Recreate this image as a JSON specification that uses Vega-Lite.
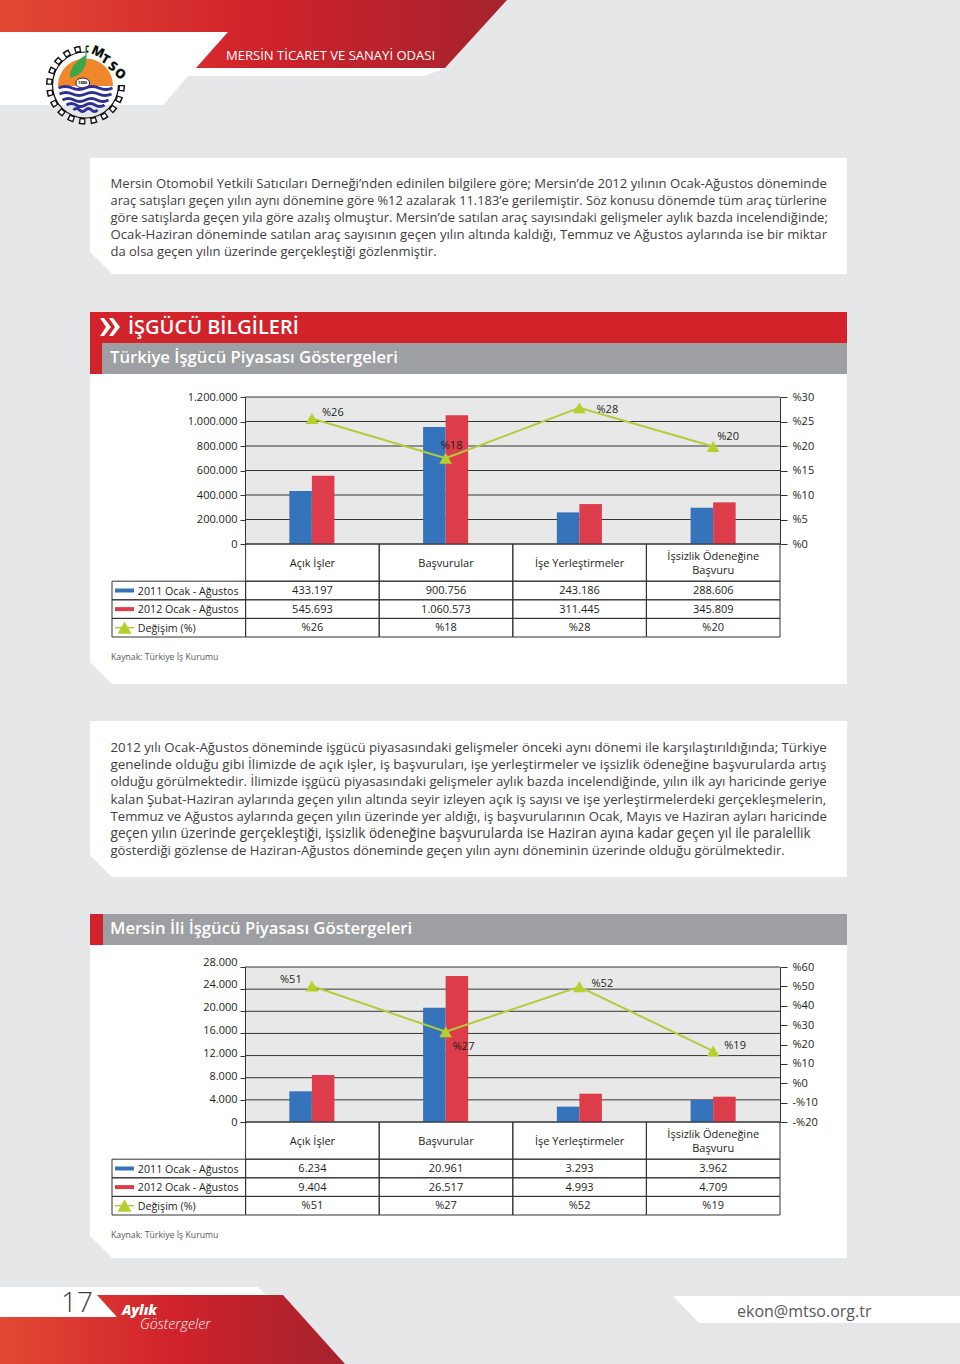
{
"$schema":"https://vega.github.io/schema/vega-lite/v6.json",
"width":960,"height":1364,"padding":0,
"autosize":{"type":"fit","contains":"padding"},
"background":"#e6e7e9",
"config":{"view":{"stroke":null},"text":{"font":"Open Sans","color":"#231f20","baseline":"middle","fontSize":11},
"axis":{"domainColor":"#333333","tickColor":"#333333","labelColor":"#231f20","labelFont":"Open Sans","labelFontSize":11,"grid":false,"labelOverlap":false,"labelBound":false,"labelFlush":false}},
"resolve":{"scale":{"x":"independent","y":"independent","color":"independent","shape":"independent","xOffset":"independent","angle":"independent","size":"independent"},"axis":{"x":"independent","y":"independent"}},
"datasets":{
"ticks1":[{"v":0},{"v":200000},{"v":400000},{"v":600000},{"v":800000},{"v":1000000},{"v":1200000}],
"ticks2":[{"v":0},{"v":4000},{"v":8000},{"v":12000},{"v":16000},{"v":20000},{"v":24000},{"v":28000}],
"bars1":[
{"cat":"Açık İşler","series":"2011 Ocak - Ağustos","v":433197},{"cat":"Açık İşler","series":"2012 Ocak - Ağustos","v":558000},
{"cat":"Başvurular","series":"2011 Ocak - Ağustos","v":955000},{"cat":"Başvurular","series":"2012 Ocak - Ağustos","v":1052000},
{"cat":"İşe Yerleştirmeler","series":"2011 Ocak - Ağustos","v":258000},{"cat":"İşe Yerleştirmeler","series":"2012 Ocak - Ağustos","v":326000},
{"cat":"İşsizlik Ödeneğine Başvuru","series":"2011 Ocak - Ağustos","v":296000},{"cat":"İşsizlik Ödeneğine Başvuru","series":"2012 Ocak - Ağustos","v":340000}],
"bars2":[
{"cat":"Açık İşler","series":"2011 Ocak - Ağustos","v":5546},{"cat":"Açık İşler","series":"2012 Ocak - Ağustos","v":8490},
{"cat":"Başvurular","series":"2011 Ocak - Ağustos","v":20650},{"cat":"Başvurular","series":"2012 Ocak - Ağustos","v":26375},
{"cat":"İşe Yerleştirmeler","series":"2011 Ocak - Ağustos","v":2770},{"cat":"İşe Yerleştirmeler","series":"2012 Ocak - Ağustos","v":5112},
{"cat":"İşsizlik Ödeneğine Başvuru","series":"2011 Ocak - Ağustos","v":3974},{"cat":"İşsizlik Ödeneğine Başvuru","series":"2012 Ocak - Ağustos","v":4570}],
"line1":[{"cat":"Açık İşler","pct":25.6,"label":"%26"},{"cat":"Başvurular","pct":17.5,"label":"%18"},{"cat":"İşe Yerleştirmeler","pct":27.8,"label":"%28"},{"cat":"İşsizlik Ödeneğine Başvuru","pct":19.9,"label":"%20"}],
"line2":[{"cat":"Açık İşler","pct":50.2,"label":"%51"},{"cat":"Başvurular","pct":26.6,"label":"%27"},{"cat":"İşe Yerleştirmeler","pct":49.8,"label":"%52"},{"cat":"İşsizlik Ödeneğine Başvuru","pct":16.6,"label":"%19"}],
"catrow":[{"col":"Açık İşler","text":"Açık İşler"},{"col":"Başvurular","text":"Başvurular"},{"col":"İşe Yerleştirmeler","text":"İşe Yerleştirmeler"},{"col":"İşsizlik Ödeneğine Başvuru","text":"İşsizlik Ödeneğine\nBaşvuru"}],
"table1":[
{"row":"2011 Ocak - Ağustos","col":"lab","text":"2011 Ocak - Ağustos"},{"row":"2011 Ocak - Ağustos","col":"Açık İşler","text":"433.197"},{"row":"2011 Ocak - Ağustos","col":"Başvurular","text":"900.756"},{"row":"2011 Ocak - Ağustos","col":"İşe Yerleştirmeler","text":"243.186"},{"row":"2011 Ocak - Ağustos","col":"İşsizlik Ödeneğine Başvuru","text":"288.606"},
{"row":"2012 Ocak - Ağustos","col":"lab","text":"2012 Ocak - Ağustos"},{"row":"2012 Ocak - Ağustos","col":"Açık İşler","text":"545.693"},{"row":"2012 Ocak - Ağustos","col":"Başvurular","text":"1.060.573"},{"row":"2012 Ocak - Ağustos","col":"İşe Yerleştirmeler","text":"311.445"},{"row":"2012 Ocak - Ağustos","col":"İşsizlik Ödeneğine Başvuru","text":"345.809"},
{"row":"Değişim (%)","col":"lab","text":"Değişim (%)"},{"row":"Değişim (%)","col":"Açık İşler","text":"%26"},{"row":"Değişim (%)","col":"Başvurular","text":"%18"},{"row":"Değişim (%)","col":"İşe Yerleştirmeler","text":"%28"},{"row":"Değişim (%)","col":"İşsizlik Ödeneğine Başvuru","text":"%20"}],
"table2":[
{"row":"2011 Ocak - Ağustos","col":"lab","text":"2011 Ocak - Ağustos"},{"row":"2011 Ocak - Ağustos","col":"Açık İşler","text":"6.234"},{"row":"2011 Ocak - Ağustos","col":"Başvurular","text":"20.961"},{"row":"2011 Ocak - Ağustos","col":"İşe Yerleştirmeler","text":"3.293"},{"row":"2011 Ocak - Ağustos","col":"İşsizlik Ödeneğine Başvuru","text":"3.962"},
{"row":"2012 Ocak - Ağustos","col":"lab","text":"2012 Ocak - Ağustos"},{"row":"2012 Ocak - Ağustos","col":"Açık İşler","text":"9.404"},{"row":"2012 Ocak - Ağustos","col":"Başvurular","text":"26.517"},{"row":"2012 Ocak - Ağustos","col":"İşe Yerleştirmeler","text":"4.993"},{"row":"2012 Ocak - Ağustos","col":"İşsizlik Ödeneğine Başvuru","text":"4.709"},
{"row":"Değişim (%)","col":"lab","text":"Değişim (%)"},{"row":"Değişim (%)","col":"Açık İşler","text":"%51"},{"row":"Değişim (%)","col":"Başvurular","text":"%27"},{"row":"Değişim (%)","col":"İşe Yerleştirmeler","text":"%52"},{"row":"Değişim (%)","col":"İşsizlik Ödeneğine Başvuru","text":"%19"}],
"swatch":[{"row":"2011 Ocak - Ağustos"},{"row":"2012 Ocak - Ağustos"}],
"swatchTri":[{"row":"Değişim (%)"}],
"para1":[
{"line":1,"text":"Mersin Otomobil Yetkili Satıcıları Derneği’nden edinilen bilgilere göre; Mersin’de 2012 yılının Ocak-Ağustos döneminde"},
{"line":2,"text":"araç satışları geçen yılın aynı dönemine göre %12 azalarak 11.183’e gerilemiştir. Söz konusu dönemde tüm araç türlerine"},
{"line":3,"text":"göre satışlarda geçen yıla göre azalış olmuştur. Mersin’de satılan araç sayısındaki gelişmeler aylık bazda incelendiğinde;"},
{"line":4,"text":"Ocak-Haziran döneminde satılan araç sayısının geçen yılın altında kaldığı, Temmuz ve Ağustos aylarında ise bir miktar"},
{"line":5,"text":"da olsa geçen yılın üzerinde gerçekleştiği gözlenmiştir."}],
"para2":[
{"line":1,"text":"2012 yılı Ocak-Ağustos döneminde işgücü piyasasındaki gelişmeler önceki aynı dönemi ile karşılaştırıldığında; Türkiye"},
{"line":2,"text":"genelinde olduğu gibi İlimizde de açık işler, iş başvuruları, işe yerleştirmeler ve işsizlik ödeneğine başvurularda artış"},
{"line":3,"text":"olduğu görülmektedir. İlimizde işgücü piyasasındaki gelişmeler aylık bazda incelendiğinde, yılın ilk ayı haricinde geriye"},
{"line":4,"text":"kalan Şubat-Haziran aylarında geçen yılın altında seyir izleyen açık iş sayısı ve işe yerleştirmelerdeki gerçekleşmelerin,"},
{"line":5,"text":"Temmuz ve Ağustos aylarında geçen yılın üzerinde yer aldığı, iş başvurularının Ocak, Mayıs ve Haziran ayları haricinde"},
{"line":6,"text":"geçen yılın üzerinde gerçekleştiği, işsizlik ödeneğine başvurularda ise Haziran ayına kadar geçen yıl ile paralellik"},
{"line":7,"text":"gösterdiği gözlense de Haziran-Ağustos döneminde geçen yılın aynı döneminin üzerinde olduğu görülmektedir."}]
},
"layer":[
{"data":{"values":[{"part":"top"},{"part":"intro"},{"part":"panel1"},{"part":"head1"},{"part":"grey1"},{"part":"plot1"},{"part":"para2"},{"part":"panel2"},{"part":"head2"},{"part":"grey2"},{"part":"plot2"},{"part":"foot"},{"part":"footr"},{"part":"chev"}]},
"mark":{"type":"point","filled":true,"opacity":1,"size":4,"strokeWidth":0},
"encoding":{
"shape":{"field":"part","type":"nominal","legend":null,"scale":{"domain":["top","intro","panel1","head1","grey1","plot1","para2","panel2","head2","grey2","plot2","foot","footr","chev"],"range":[
"M-480,-650L-252,-650L-284,-614L-35,-614L-56,-606L-292,-606L-317,-577L-480,-577Z",
"M-390,-524L367,-524L367,-408L-368,-408L-390,-430Z",
"M-390,-308L367,-308L367,2L-368,2L-390,-20Z",
"M-390,-370L367,-370L367,-308L-390,-308Z",
"M-378,-339L367,-339L367,-308L-378,-308Z",
"M-235,-285L300,-285L300,-138L-235,-138Z",
"M-390,39L367,39L367,195L-368,195L-390,173Z",
"M-390,263L367,263L367,576L-368,576L-390,554Z",
"M-390,232L-377,232L-377,263L-390,263Z",
"M-377,232L367,232L367,263L-377,263Z",
"M-235,285L300,285L300,440L-235,440Z",
"M-480,605L-222,605L-214,613L-383,613L-363,635L-480,635Z",
"M193,614L480,614L480,641L219,641Z",
"M-380,-364L-376,-364L-369,-355L-376,-346L-380,-346L-374,-355ZM-371,-364L-367,-364L-360,-355L-367,-346L-371,-346L-365,-355Z"]}},
"color":{"field":"part","type":"nominal","legend":null,"scale":{"domain":["top","intro","panel1","head1","grey1","plot1","para2","panel2","head2","grey2","plot2","foot","footr","chev"],"range":["#ffffff","#ffffff","#ffffff","#d2232a","#9d9fa2","#e8e8e9","#ffffff","#ffffff","#d2232a","#9d9fa2","#e8e8e9","#ffffff","#ffffff","#ffffff"]}}}},
{"data":{"values":[{"part":"headerbar"}]},"mark":{"type":"point","filled":true,"opacity":1,"size":4,"strokeWidth":0,"shape":"M-480,-682L27,-682L-35,-614L-284,-614L-252,-650L-480,-650Z","fill":{"gradient":"linear","x1":0,"x2":1,"y1":0,"y2":0,"stops":[{"offset":0,"color":"#e24a34"},{"offset":0.5,"color":"#d1222b"},{"offset":1,"color":"#a5232d"}]}},"encoding":{}},
{"data":{"values":[{"part":"footerbar"}]},"mark":{"type":"point","filled":true,"opacity":1,"size":4,"strokeWidth":0,"shape":"M-383,613L-197,613L-135,682L-480,682L-480,635L-363,635Z","fill":{"gradient":"linear","x1":0,"x2":1,"y1":0,"y2":0,"stops":[{"offset":0,"color":"#e24a34"},{"offset":0.5,"color":"#d1222b"},{"offset":1,"color":"#a5232d"}]}},"encoding":{}},

{"data":{"values":[{"part":"logo"}]},
"encoding":{"x":{"field":"part","type":"nominal","axis":null,"scale":{"type":"point","range":[85.5,85.5]}},"y":{"field":"part","type":"nominal","axis":null,"scale":{"type":"point","range":[85,85]}}},
"layer":[
{"mark":{"type":"point","shape":"circle","filled":false,"opacity":1,"stroke":"#111111","strokeWidth":6.5,"strokeDash":[6.3,5.09],"size":5256}},
{"mark":{"type":"point","shape":"circle","filled":false,"opacity":1,"stroke":"#ffffff","strokeWidth":3.5,"strokeDash":[3.7,7.69],"strokeDashOffset":10.09,"size":5256}},
{"mark":{"type":"point","shape":"circle","filled":false,"opacity":1,"stroke":"#111111","strokeWidth":1.2,"size":4356}},
{"mark":{"type":"point","filled":true,"opacity":1,"size":4,"strokeWidth":0,"color":"#ffffff","shape":"M0,-2L4,-45L30,-38L46,-14L46,0L30,0Z"}},
{"mark":{"type":"point","filled":true,"opacity":1,"size":4,"strokeWidth":0,"color":"#f0872b","shape":"M-27.5,1A27.5,27.5 0 0 1 27.5,1Z"}},
{"mark":{"type":"point","filled":true,"opacity":1,"size":4,"strokeWidth":0,"color":"#3da64a","shape":"M-15.5,-7C-17,-17 -8,-25 0.5,-30C2,-20 -2,-10 -15.5,-7ZM0,-38L1.2,-38L1.2,-28L0,-28Z"}},
{"mark":{"type":"point","filled":true,"opacity":1,"size":4,"strokeWidth":1,"stroke":"#222222","color":"#ffffff","shape":"M-9.5,-2A6.8,4.4 0 1 1 4,-2A6.8,4.4 0 1 1 -9.5,-2Z"}},
{"mark":{"type":"point","filled":false,"opacity":1,"size":4,"strokeWidth":3,"stroke":"#2e3192","shape":"M-27,3q6.75,-3 13.5,0t13.5,0t13.5,0t13.5,0M-26,9q6.5,-3 13,0t13,0t13,0t13,0M-23,15q5.75,-3 11.5,0t11.5,0t11.5,0t11.5,0M-19,20q4.75,-3 9.5,0t9.5,0t9.5,0t9.5,0M-12,25q3,-3 6,0t6,0t6,0t6,0"}}
]},
{"data":{"values":[{"t":"1886"}]},"mark":{"type":"text","fontSize":4,"fontWeight":700,"align":"center","color":"#111111"},"encoding":{"text":{"field":"t"},"x":{"field":"t","type":"nominal","axis":null,"scale":{"type":"point","range":[82.7,82.7]}},"y":{"field":"t","type":"nominal","axis":null,"scale":{"type":"point","range":[83,83]}}}},
{"data":{"values":[{"t":"M"},{"t":"T"},{"t":"S"},{"t":"O"}]},"mark":{"type":"text","fontSize":13,"fontWeight":800,"align":"center","color":"#111111"},"encoding":{"text":{"field":"t"},
"x":{"field":"t","type":"nominal","axis":null,"scale":{"type":"point","domain":["M","T","S","O"],"padding":0,"range":[98,120]}},
"y":{"field":"t","type":"nominal","axis":null,"scale":{"type":"point","domain":["M","T","S","O"],"padding":0,"range":[52,74]}},
"angle":{"field":"t","type":"nominal","legend":null,"scale":{"domain":["M","T","S","O"],"range":[25,40,55,70]}}}},

{"data":{"values":[{"t":"MERSİN TİCARET VE SANAYİ ODASI"}]},"mark":{"type":"text","fontSize":13.05,"align":"left","color":"#ffffff"},"encoding":{"text":{"field":"t"},"x":{"field":"t","type":"nominal","axis":null,"scale":{"type":"point","range":[226,226]}},"y":{"field":"t","type":"nominal","axis":null,"scale":{"type":"point","range":[56,56]}}}},

{"data":{"name":"para1"},"mark":{"type":"text","align":"left","color":"#414042"},"encoding":{"text":{"field":"text"},"size":{"field":"line","type":"ordinal","legend":null,"scale":{"type":"ordinal","domain":[1,2,3,4,5],"range":[13.1,12.83,13,13.2,13]}},"x":{"datum":0,"type":"quantitative","axis":null,"scale":{"domain":[0,1],"range":[110.5,827]}},"y":{"field":"line","type":"ordinal","axis":null,"scale":{"type":"point","padding":0,"range":[184,252]}}}},
{"data":{"name":"para2"},"mark":{"type":"text","align":"left","color":"#414042"},"encoding":{"text":{"field":"text"},"size":{"field":"line","type":"ordinal","legend":null,"scale":{"type":"ordinal","domain":[1,2,3,4,5,6,7],"range":[13.24,13.43,13.17,13.18,13.17,13.6,13.1]}},"x":{"datum":0,"type":"quantitative","axis":null,"scale":{"domain":[0,1],"range":[110.5,827]}},"y":{"field":"line","type":"ordinal","axis":null,"scale":{"type":"point","padding":0,"range":[748,851]}}}},

{"data":{"values":[{"t":"İŞGÜCÜ BİLGİLERİ"}]},"mark":{"type":"text","fontSize":20,"fontWeight":600,"align":"left","color":"#ffffff"},"encoding":{"text":{"field":"t"},"x":{"field":"t","type":"nominal","axis":null,"scale":{"type":"point","range":[128,128]}},"y":{"field":"t","type":"nominal","axis":null,"scale":{"type":"point","range":[328,328]}}}},
{"data":{"values":[{"t":"Türkiye İşgücü Piyasası Göstergeleri"}]},"mark":{"type":"text","fontSize":16.7,"fontWeight":600,"align":"left","color":"#ffffff"},"encoding":{"text":{"field":"t"},"x":{"field":"t","type":"nominal","axis":null,"scale":{"type":"point","range":[110,110]}},"y":{"field":"t","type":"nominal","axis":null,"scale":{"type":"point","range":[358,358]}}}},
{"data":{"values":[{"t":"Mersin İli İşgücü Piyasası Göstergeleri"}]},"mark":{"type":"text","fontSize":16.7,"fontWeight":600,"align":"left","color":"#ffffff"},"encoding":{"text":{"field":"t"},"x":{"field":"t","type":"nominal","axis":null,"scale":{"type":"point","range":[110,110]}},"y":{"field":"t","type":"nominal","axis":null,"scale":{"type":"point","range":[929,929]}}}},

{"data":{"name":"ticks1"},"mark":{"type":"rule","color":"#333333","strokeWidth":1},"encoding":{"x":{"datum":0,"type":"quantitative","axis":null,"scale":{"domain":[0,1],"range":[245,780]}},"x2":{"datum":1},"y":{"field":"v","type":"quantitative","title":null,"scale":{"domain":[0,1200000],"range":[544,397]},"axis":{"zindex":1,"orient":"left","offset":-245,"tickSize":5,"labelPadding":3,"values":[0,200000,400000,600000,800000,1000000,1200000],"labelExpr":"replace(format(datum.value,','),regexp(',','g'),'.')"}}}},
{"data":{"name":"bars1"},"mark":{"type":"bar"},"encoding":{"x":{"field":"cat","type":"nominal","axis":null,"scale":{"type":"band","domain":["Açık İşler","Başvurular","İşe Yerleştirmeler","İşsizlik Ödeneğine Başvuru"],"range":[245,780],"paddingInner":0.663,"paddingOuter":0.3315}},"xOffset":{"field":"series","type":"nominal","scale":{"domain":["2011 Ocak - Ağustos","2012 Ocak - Ağustos"]}},"y":{"field":"v","type":"quantitative","axis":null,"scale":{"domain":[0,1200000],"range":[544,397]}},"color":{"field":"series","type":"nominal","legend":null,"scale":{"domain":["2011 Ocak - Ağustos","2012 Ocak - Ağustos"],"range":["#3574bb","#dd3c4b"]}}}},
{"data":{"name":"line1"},
"encoding":{"x":{"field":"cat","type":"nominal","axis":null,"scale":{"type":"point","padding":0.5,"domain":["Açık İşler","Başvurular","İşe Yerleştirmeler","İşsizlik Ödeneğine Başvuru"],"range":[245,780]}},"y":{"field":"pct","type":"quantitative","title":null,"scale":{"domain":[0,30],"range":[544,397]},"axis":{"zindex":1,"orient":"right","offset":-180,"tickSize":7,"labelPadding":5,"values":[0,5,10,15,20,25,30],"labelExpr":"'%'+datum.value"}}},
"layer":[
{"mark":{"type":"line","color":"#b2cc3a","strokeWidth":2,"point":{"shape":"triangle-up","size":160,"filled":true,"color":"#b5cf2f","opacity":1}}},
{"transform":[{"filter":"datum.label=='%26'"}],"mark":{"type":"text","dx":21,"dy":-6},"encoding":{"text":{"field":"label"}}},
{"transform":[{"filter":"datum.label=='%18'"}],"mark":{"type":"text","dx":6,"dy":-12},"encoding":{"text":{"field":"label"}}},
{"transform":[{"filter":"datum.label=='%28'"}],"mark":{"type":"text","dx":28,"dy":2},"encoding":{"text":{"field":"label"}}},
{"transform":[{"filter":"datum.label=='%20'"}],"mark":{"type":"text","dx":15,"dy":-9},"encoding":{"text":{"field":"label"}}}
]},
{"data":{"name":"catrow"},
"encoding":{"x":{"field":"col","type":"nominal","axis":null,"scale":{"type":"band","paddingInner":0,"paddingOuter":0,"domain":["lab","Açık İşler","Başvurular","İşe Yerleştirmeler","İşsizlik Ödeneğine Başvuru"],"range":[112,780]}},"y":{"datum":"cat","type":"nominal","axis":null,"scale":{"type":"band","paddingInner":0,"paddingOuter":0,"domain":["cat"],"range":[544,581.2]}}},
"layer":[{"mark":{"type":"rect","fillOpacity":0,"stroke":"#333333","strokeWidth":1}},
{"transform":[{"filter":"indexof(datum.text,'\\n')<0"}],"mark":{"type":"text","dy":1},"encoding":{"text":{"field":"text"}}},
{"transform":[{"filter":"indexof(datum.text,'\\n')>=0"}],"mark":{"type":"text","lineBreak":"\n","lineHeight":14,"dy":-6},"encoding":{"text":{"field":"text"}}}]},
{"data":{"name":"table1"},
"encoding":{"x":{"field":"col","type":"nominal","axis":null,"scale":{"type":"band","paddingInner":0,"paddingOuter":0,"domain":["lab","Açık İşler","Başvurular","İşe Yerleştirmeler","İşsizlik Ödeneğine Başvuru"],"range":[112,780]}},"y":{"field":"row","type":"nominal","axis":null,"scale":{"type":"band","paddingInner":0,"paddingOuter":0,"domain":["2011 Ocak - Ağustos","2012 Ocak - Ağustos","Değişim (%)"],"range":[581.2,637]}}},
"layer":[{"mark":{"type":"rect","fillOpacity":0,"stroke":"#333333","strokeWidth":1}},
{"transform":[{"filter":"datum.col!='lab'"}],"mark":{"type":"text","dy":0.5},"encoding":{"text":{"field":"text"}}},
{"transform":[{"filter":"datum.col=='lab'"}],"mark":{"type":"text","align":"left","dx":-41,"dy":1,"fontSize":10.7},"encoding":{"text":{"field":"text"}}}]},
{"data":{"name":"swatch"},"mark":{"type":"rule","strokeWidth":4},"encoding":{"x":{"datum":0,"type":"quantitative","axis":null,"scale":{"domain":[0,1],"range":[115,134]}},"x2":{"datum":1},"y":{"field":"row","type":"nominal","axis":null,"scale":{"type":"band","paddingInner":0,"paddingOuter":0,"domain":["2011 Ocak - Ağustos","2012 Ocak - Ağustos","Değişim (%)"],"range":[581.2,637]}},"color":{"field":"row","type":"nominal","legend":null,"scale":{"domain":["2011 Ocak - Ağustos","2012 Ocak - Ağustos"],"range":["#3574bb","#dd3c4b"]}}}},
{"data":{"name":"swatchTri"},"encoding":{"x":{"datum":0,"type":"quantitative","axis":null,"scale":{"domain":[0,1],"range":[115,134]}},"y":{"field":"row","type":"nominal","axis":null,"scale":{"type":"band","paddingInner":0,"paddingOuter":0,"domain":["2011 Ocak - Ağustos","2012 Ocak - Ağustos","Değişim (%)"],"range":[581.2,637]}}},
"layer":[{"mark":{"type":"rule","color":"#b2cc3a","strokeWidth":1.5},"encoding":{"x2":{"datum":1}}},{"mark":{"type":"point","shape":"triangle-up","size":200,"filled":true,"opacity":1,"color":"#b5cf2f","xOffset":9.5}}]},
{"data":{"values":[{"t":"Kaynak: Türkiye İş Kurumu"}]},"mark":{"type":"text","fontSize":8.7,"align":"left","color":"#58595b"},"encoding":{"text":{"field":"t"},"x":{"field":"t","type":"nominal","axis":null,"scale":{"type":"point","range":[111,111]}},"y":{"field":"t","type":"nominal","axis":null,"scale":{"type":"point","range":[657,657]}}}},

{"data":{"name":"ticks2"},"mark":{"type":"rule","color":"#333333","strokeWidth":1},"encoding":{"x":{"datum":0,"type":"quantitative","axis":null,"scale":{"domain":[0,1],"range":[245,780]}},"x2":{"datum":1},"y":{"field":"v","type":"quantitative","title":null,"scale":{"domain":[0,28000],"range":[1122,967]},"axis":{"zindex":1,"orient":"left","offset":-245,"tickSize":5,"labels":false,"values":[0,4000,8000,12000,16000,20000,24000,28000]}}}},
{"data":{"name":"ticks2"},"mark":{"type":"rule","opacity":0},"encoding":{"x":{"datum":0,"type":"quantitative","axis":null,"scale":{"domain":[0,1],"range":[245,780]}},"y":{"field":"v","type":"quantitative","title":null,"scale":{"domain":[0,28000],"range":[1122,962]},"axis":{"zindex":1,"orient":"left","offset":-245,"ticks":false,"domain":false,"labelPadding":8,"values":[0,4000,8000,12000,16000,20000,24000,28000],"labelExpr":"replace(format(datum.value,','),regexp(',','g'),'.')"}}}},
{"data":{"name":"bars2"},"mark":{"type":"bar"},"encoding":{"x":{"field":"cat","type":"nominal","axis":null,"scale":{"type":"band","domain":["Açık İşler","Başvurular","İşe Yerleştirmeler","İşsizlik Ödeneğine Başvuru"],"range":[245,780],"paddingInner":0.663,"paddingOuter":0.3315}},"xOffset":{"field":"series","type":"nominal","scale":{"domain":["2011 Ocak - Ağustos","2012 Ocak - Ağustos"]}},"y":{"field":"v","type":"quantitative","axis":null,"scale":{"domain":[0,28000],"range":[1122,967]}},"color":{"field":"series","type":"nominal","legend":null,"scale":{"domain":["2011 Ocak - Ağustos","2012 Ocak - Ağustos"],"range":["#3574bb","#dd3c4b"]}}}},
{"data":{"name":"line2"},
"encoding":{"x":{"field":"cat","type":"nominal","axis":null,"scale":{"type":"point","padding":0.5,"domain":["Açık İşler","Başvurular","İşe Yerleştirmeler","İşsizlik Ödeneğine Başvuru"],"range":[245,780]}},"y":{"field":"pct","type":"quantitative","title":null,"scale":{"domain":[-20,60],"range":[1122,967]},"axis":{"zindex":1,"orient":"right","offset":-180,"tickSize":7,"labelPadding":5,"values":[-20,-10,0,10,20,30,40,50,60],"labelExpr":"(datum.value<0?'-':'')+'%'+abs(datum.value)"}}},
"layer":[
{"mark":{"type":"line","color":"#b2cc3a","strokeWidth":2,"point":{"shape":"triangle-up","size":160,"filled":true,"color":"#b5cf2f","opacity":1}}},
{"transform":[{"filter":"datum.label=='%51'"}],"mark":{"type":"text","dx":-21,"dy":-6},"encoding":{"text":{"field":"label"}}},
{"transform":[{"filter":"datum.label=='%27'"}],"mark":{"type":"text","dx":18,"dy":15},"encoding":{"text":{"field":"label"}}},
{"transform":[{"filter":"datum.label=='%52'"}],"mark":{"type":"text","dx":23,"dy":-3},"encoding":{"text":{"field":"label"}}},
{"transform":[{"filter":"datum.label=='%19'"}],"mark":{"type":"text","dx":22,"dy":-5},"encoding":{"text":{"field":"label"}}}
]},
{"data":{"name":"catrow"},
"encoding":{"x":{"field":"col","type":"nominal","axis":null,"scale":{"type":"band","paddingInner":0,"paddingOuter":0,"domain":["lab","Açık İşler","Başvurular","İşe Yerleştirmeler","İşsizlik Ödeneğine Başvuru"],"range":[112,780]}},"y":{"datum":"cat","type":"nominal","axis":null,"scale":{"type":"band","paddingInner":0,"paddingOuter":0,"domain":["cat"],"range":[1122,1159.2]}}},
"layer":[{"mark":{"type":"rect","fillOpacity":0,"stroke":"#333333","strokeWidth":1}},
{"transform":[{"filter":"indexof(datum.text,'\\n')<0"}],"mark":{"type":"text","dy":1},"encoding":{"text":{"field":"text"}}},
{"transform":[{"filter":"indexof(datum.text,'\\n')>=0"}],"mark":{"type":"text","lineBreak":"\n","lineHeight":14,"dy":-6},"encoding":{"text":{"field":"text"}}}]},
{"data":{"name":"table2"},
"encoding":{"x":{"field":"col","type":"nominal","axis":null,"scale":{"type":"band","paddingInner":0,"paddingOuter":0,"domain":["lab","Açık İşler","Başvurular","İşe Yerleştirmeler","İşsizlik Ödeneğine Başvuru"],"range":[112,780]}},"y":{"field":"row","type":"nominal","axis":null,"scale":{"type":"band","paddingInner":0,"paddingOuter":0,"domain":["2011 Ocak - Ağustos","2012 Ocak - Ağustos","Değişim (%)"],"range":[1159.2,1215]}}},
"layer":[{"mark":{"type":"rect","fillOpacity":0,"stroke":"#333333","strokeWidth":1}},
{"transform":[{"filter":"datum.col!='lab'"}],"mark":{"type":"text","dy":0.5},"encoding":{"text":{"field":"text"}}},
{"transform":[{"filter":"datum.col=='lab'"}],"mark":{"type":"text","align":"left","dx":-41,"dy":1,"fontSize":10.7},"encoding":{"text":{"field":"text"}}}]},
{"data":{"name":"swatch"},"mark":{"type":"rule","strokeWidth":4},"encoding":{"x":{"datum":0,"type":"quantitative","axis":null,"scale":{"domain":[0,1],"range":[115,134]}},"x2":{"datum":1},"y":{"field":"row","type":"nominal","axis":null,"scale":{"type":"band","paddingInner":0,"paddingOuter":0,"domain":["2011 Ocak - Ağustos","2012 Ocak - Ağustos","Değişim (%)"],"range":[1159.2,1215]}},"color":{"field":"row","type":"nominal","legend":null,"scale":{"domain":["2011 Ocak - Ağustos","2012 Ocak - Ağustos"],"range":["#3574bb","#dd3c4b"]}}}},
{"data":{"name":"swatchTri"},"encoding":{"x":{"datum":0,"type":"quantitative","axis":null,"scale":{"domain":[0,1],"range":[115,134]}},"y":{"field":"row","type":"nominal","axis":null,"scale":{"type":"band","paddingInner":0,"paddingOuter":0,"domain":["2011 Ocak - Ağustos","2012 Ocak - Ağustos","Değişim (%)"],"range":[1159.2,1215]}}},
"layer":[{"mark":{"type":"rule","color":"#b2cc3a","strokeWidth":1.5},"encoding":{"x2":{"datum":1}}},{"mark":{"type":"point","shape":"triangle-up","size":200,"filled":true,"opacity":1,"color":"#b5cf2f","xOffset":9.5}}]},
{"data":{"values":[{"t":"Kaynak: Türkiye İş Kurumu"}]},"mark":{"type":"text","fontSize":8.7,"align":"left","color":"#58595b"},"encoding":{"text":{"field":"t"},"x":{"field":"t","type":"nominal","axis":null,"scale":{"type":"point","range":[111,111]}},"y":{"field":"t","type":"nominal","axis":null,"scale":{"type":"point","range":[1235,1235]}}}},

{"data":{"values":[{"t":"17"}]},"mark":{"type":"text","fontSize":28,"fontWeight":300,"align":"left","color":"#414042"},"encoding":{"text":{"field":"t"},"x":{"field":"t","type":"nominal","axis":null,"scale":{"type":"point","range":[61,61]}},"y":{"field":"t","type":"nominal","axis":null,"scale":{"type":"point","range":[1304,1304]}}}},
{"data":{"values":[{"t":"Aylık"}]},"mark":{"type":"text","fontSize":14,"fontWeight":800,"fontStyle":"italic","align":"left","color":"#ffffff"},"encoding":{"text":{"field":"t"},"x":{"field":"t","type":"nominal","axis":null,"scale":{"type":"point","range":[122,122]}},"y":{"field":"t","type":"nominal","axis":null,"scale":{"type":"point","range":[1311,1311]}}}},
{"data":{"values":[{"t":"Göstergeler"}]},"mark":{"type":"text","fontSize":14.2,"fontWeight":300,"fontStyle":"italic","align":"left","color":"#ffffff"},"encoding":{"text":{"field":"t"},"x":{"field":"t","type":"nominal","axis":null,"scale":{"type":"point","range":[140,140]}},"y":{"field":"t","type":"nominal","axis":null,"scale":{"type":"point","range":[1325,1325]}}}},
{"data":{"values":[{"t":"ekon@mtso.org.tr"}]},"mark":{"type":"text","fontSize":16,"align":"left","color":"#58595b"},"encoding":{"text":{"field":"t"},"x":{"field":"t","type":"nominal","axis":null,"scale":{"type":"point","range":[737,737]}},"y":{"field":"t","type":"nominal","axis":null,"scale":{"type":"point","range":[1312,1312]}}}}
]
}
